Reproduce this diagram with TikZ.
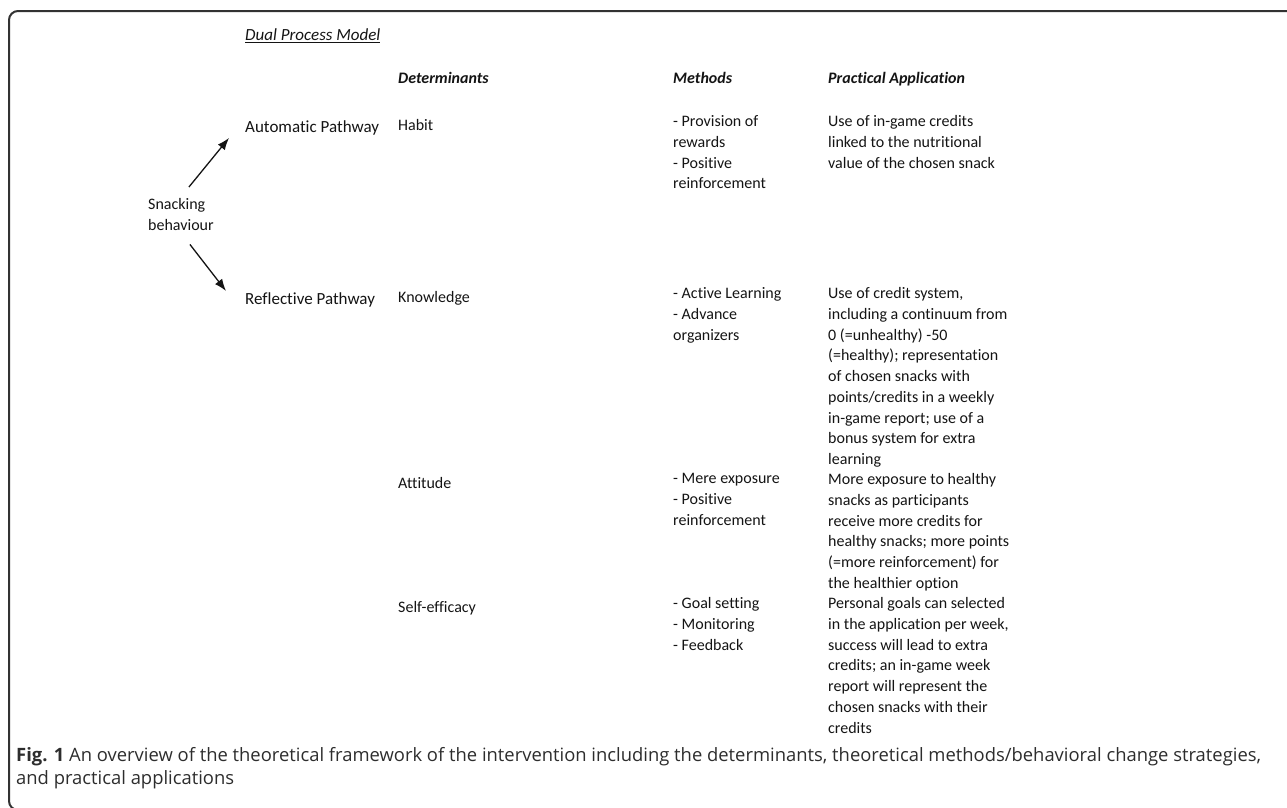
\documentclass[tikz,border=0pt]{standalone}
\usepackage{fontspec}
\setmainfont{Carlito}[Ligatures=NoCommon]
\newfontfamily\captionfont{Open Sans}
\usetikzlibrary{positioning,arrows.meta}
\definecolor{framecol}{RGB}{50,50,50}
\definecolor{textcol}{RGB}{20,20,20}
\definecolor{captioncol}{RGB}{45,45,45}
\newcommand{\bodysize}{\fontsize{16}{20.7}\selectfont}
\newcommand{\labelsize}{\fontsize{17}{21.5}\selectfont}
\newcommand{\captionsize}{\fontsize{18.4}{23}\selectfont}

\begin{document}
\begin{tikzpicture}[
    x=1pt, y=1pt,
    >={Latex[length=12pt,width=9pt]},
    cell/.style={anchor=north west, inner sep=0pt, align=left, font=\bodysize, text=textcol, execute at begin node=\strut},
    headcell/.style={cell, font=\bodysize\bfseries\itshape},
    pathcell/.style={cell, font=\labelsize},
    arrow/.style={->, line width=1.3pt, draw=textcol}
    ]
    \useasboundingbox (0,0) rectangle (1287,-807);
    \draw[framecol, line width=2pt, rounded corners=9pt] (1287,-11) -- (9,-11) -- (9,-810) -- (40,-810);

    \node[pathcell] (dual) at (245,-25) {\underline{\textit{Dual Process Model}}};
    \node[headcell] (hdet) at (398,-68.5) {Determinants};
    \node[headcell] (hmeth) at (673,-68.5) {Methods};
    \node[headcell] (happ) at (828,-68.5) {Practical Application};

    \node[pathcell, font=\fontsize{16}{21.5}\selectfont] (snack) at (148,-198) {Snacking\\behaviour};
    \node[pathcell] (auto) at (245,-117) {Automatic Pathway};
    \node[pathcell] (refl) at (245,-289) {Reflective Pathway};

    % automatic pathway
    \node[cell] (habit) at (398,-115.5) {Habit};
    \node[cell] (mhabit) at (673,-115.5) {- Provision of\\rewards\\- Positive\\reinforcement};
    \node[cell] (ahabit) at (828,-115.5) {Use of in-game credits\\linked to the nutritional\\value of the chosen snack};

    % reflective pathway
    \node[cell] (know) at (398,-287.5) {Knowledge};
    \node[cell] (mknow) at (673,-287.5) {- Active Learning\\- Advance\\organizers};
    \node[cell] (aknow) at (828,-287.5) {Use of credit system,\\including a continuum from\\0 (=unhealthy) -50\\(=healthy); representation\\of chosen snacks with\\points/credits in a weekly\\in-game report; use of a\\bonus system for extra\\learning};

    \node[cell] (att) at (398,-473.5) {Attitude};
    \node[cell] (matt) at (673,-473.5) {- Mere exposure\\- Positive\\reinforcement};
    \node[cell] (aatt) at (828,-473.5) {More exposure to healthy\\snacks as participants\\receive more credits for\\healthy snacks; more points\\(=more reinforcement) for\\the healthier option};

    \node[cell] (self) at (398,-597.5) {Self-efficacy};
    \node[cell] (mself) at (673,-597.5) {- Goal setting\\- Monitoring\\- Feedback};
    \node[cell] (aself) at (828,-597.5) {Personal goals can selected\\in the application per week,\\success will lead to extra\\credits; an in-game week\\report will represent the\\chosen snacks with their\\credits};

    \draw[arrow] ([xshift=8pt,yshift=11pt]snack.north) -- ([xshift=-16pt,yshift=-10pt]auto.west);
    \draw[arrow] ([xshift=9pt,yshift=-7pt]snack.south) -- ([xshift=-19pt,yshift=9pt]refl.west);

    \node[cell, font=\captionfont\captionsize, text=captioncol] (caption) at (16,-747) {\textbf{Fig. 1} An overview of the theoretical framework of the intervention including the determinants, theoretical methods/behavioral change strategies,\\and practical applications};
\end{tikzpicture}
\end{document}
